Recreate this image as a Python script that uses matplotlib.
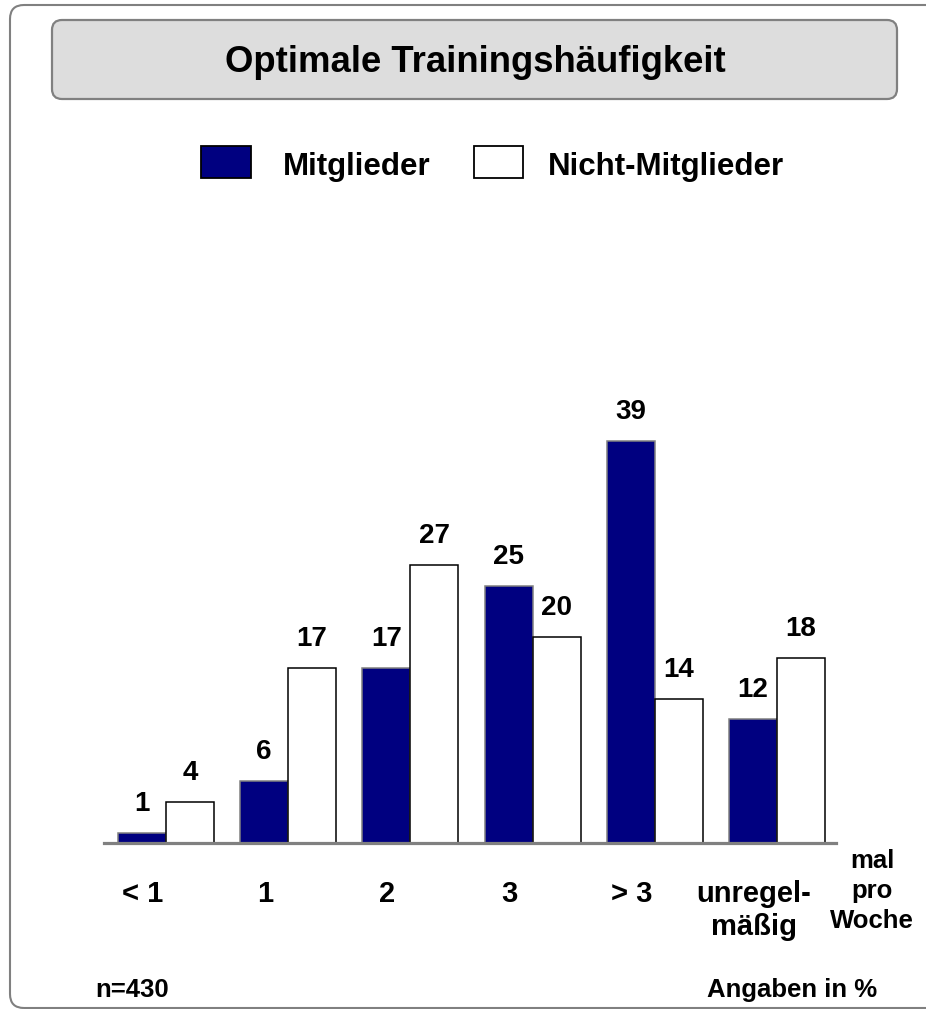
import matplotlib
matplotlib.use("Agg")
import matplotlib.pyplot as plt
import numpy as np
from matplotlib.patches import FancyBboxPatch, Rectangle

plt.rcParams['font.family'] = ['Liberation Sans', 'DejaVu Sans']
plt.rcParams['font.weight'] = 'bold'

# ---- data ----
categories = ["< 1", "1", "2", "3", "> 3", "unregel-\nmäßig"]
mitglieder = [1, 6, 17, 25, 39, 12]
nicht_mitglieder = [4, 17, 27, 20, 14, 18]
series_names = ["Mitglieder", "Nicht-Mitglieder"]
title = "Optimale Trainingshäufigkeit"
unit_note = "mal\npro\nWoche"
sample_note = "n=430"
percent_note = "Angaben in %"

W, H = 926, 1009
fig = plt.figure(figsize=(W / 100, H / 100), dpi=100)

def fx(px):
    return px / W

def fy(py):
    return 1 - py / H

NAVY = "#000080"
GRAY = "#808080"

# outer frame (in inches)
frame = FancyBboxPatch((0.10, 0.01), 9.6, 10.03,
                       boxstyle="round,pad=0,rounding_size=0.14",
                       transform=fig.dpi_scale_trans, facecolor="none",
                       edgecolor=GRAY, linewidth=1.5, zorder=0)
fig.patches.append(frame)

# title box
tbox = FancyBboxPatch((0.52, (H - 99) / 100), 8.45, 0.79,
                      boxstyle="round,pad=0,rounding_size=0.10",
                      transform=fig.dpi_scale_trans, facecolor="#DDDDDD",
                      edgecolor=GRAY, linewidth=1.6, zorder=1)
fig.patches.append(tbox)
fig.text(fx(475.5), fy(72), title, ha="center", va="baseline",
         fontsize=26.3, fontweight="bold", zorder=2)

# legend
fig.patches.append(Rectangle((fx(201), fy(178)), fx(50), 32 / H,
                             transform=fig.transFigure, facecolor=NAVY,
                             edgecolor="black", linewidth=1.3, zorder=2))
fig.patches.append(Rectangle((fx(474), fy(178)), fx(49), 32 / H,
                             transform=fig.transFigure, facecolor="white",
                             edgecolor="black", linewidth=1.3, zorder=2))
fig.text(fx(283), fy(175), series_names[0], ha="left", va="baseline",
         fontsize=22.5, fontweight="bold")
fig.text(fx(548), fy(175), series_names[1], ha="left", va="baseline",
         fontsize=22.5, fontweight="bold")

# axes
px_per_unit = 10.3
ymax = 50
ax = fig.add_axes([fx(104), 166 / H, 732 / W, ymax * px_per_unit / H])
ax.set_facecolor("none")
x = np.arange(len(categories))
bw = 0.393
b1 = ax.bar(x - bw / 2, mitglieder, width=bw, color=NAVY, edgecolor=GRAY,
            linewidth=1.1, zorder=1)
b2 = ax.bar(x + bw / 2, nicht_mitglieder, width=bw, color="white",
            edgecolor="black", linewidth=1.1, zorder=1)

for bars, vals in ((b1, mitglieder), (b2, nicht_mitglieder)):
    for rect, v in zip(bars, vals):
        ax.annotate(str(v), (rect.get_x() + rect.get_width() / 2, v),
                    xytext=(0, 15.8), textcoords="offset points",
                    ha="center", va="baseline", fontsize=20,
                    fontweight="bold")

ax.set_xlim(-0.507, 5.483)
ax.set_ylim(0, ymax)
for s in ("top", "left", "right"):
    ax.spines[s].set_visible(False)
ax.spines["bottom"].set_color(GRAY)
ax.spines["bottom"].set_linewidth(2.3)
ax.spines["bottom"].set_zorder(3)
ax.set_yticks([])
ax.set_xticks(x - 0.19)
ax.set_xticklabels(categories, fontsize=21, fontweight="bold")
ax.tick_params(axis="x", length=0, pad=27)
for lbl in ax.get_xticklabels():
    lbl.set_linespacing(1.2)

# notes
fig.text(fx(872), fy(849), unit_note, ha="center", va="top",
         fontsize=18.5, fontweight="bold", linespacing=1.32)
fig.text(fx(95), fy(997), sample_note, ha="left", va="baseline",
         fontsize=18.5, fontweight="bold")
fig.text(fx(707), fy(997), percent_note, ha="left", va="baseline",
         fontsize=18.5, fontweight="bold")

fig.savefig("out.png", dpi=100)
